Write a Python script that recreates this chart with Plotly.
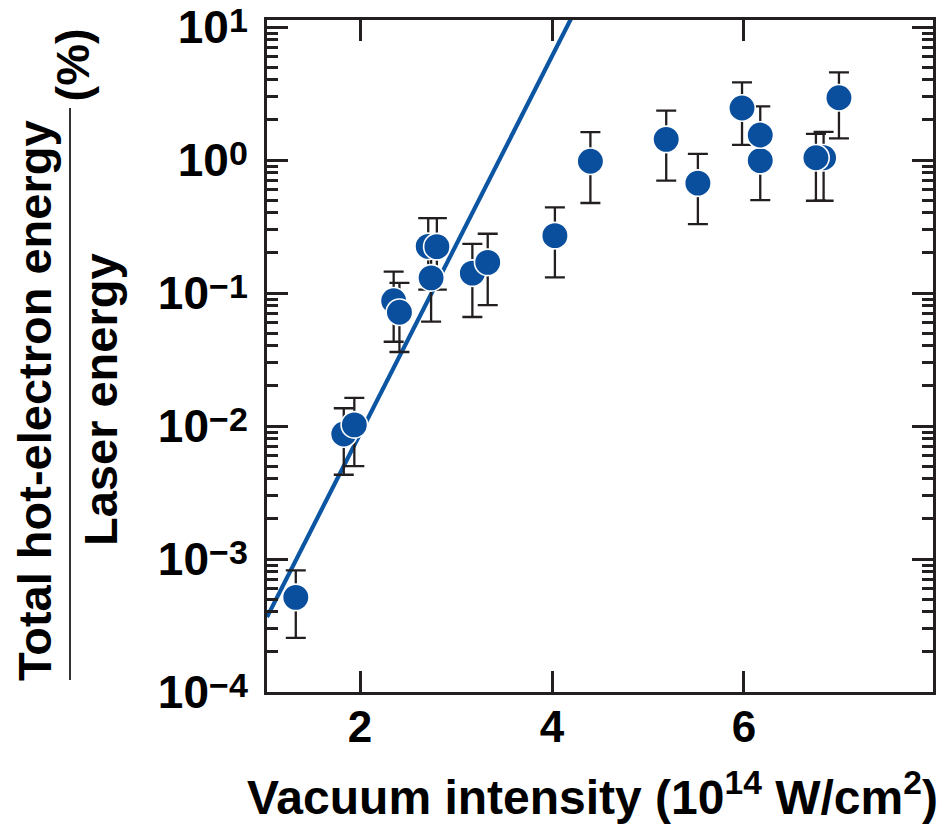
import numpy as np
import plotly.graph_objects as go

# Measured hot-electron fraction vs. vacuum intensity (drawing order = list order)
intensity = [1.33, 1.83, 1.94, 2.35, 2.41, 2.74, 2.71, 2.80, 3.17, 3.33,
             4.03, 4.40, 5.19, 5.52, 5.98, 6.17, 6.17, 6.83, 6.75, 6.99]
energy_pct = [5.15e-4, 0.0087, 0.0102, 0.0875, 0.0716, 0.130, 0.224, 0.223, 0.141, 0.170,
              0.270, 0.978, 1.43, 0.67, 2.46, 0.99, 1.54, 1.04, 1.04, 2.94]
upper_pct = [8.2e-4, 0.0136, 0.0163, 0.145, 0.119, 0.26, 0.366, 0.366, 0.234, 0.279,
             0.441, 1.62, 2.35, 1.11, 3.84, 1.55, 2.53, 1.63, 1.57, 4.56]
lower_pct = [2.55e-4, 0.0043, 0.0050, 0.043, 0.036, 0.061, 0.106, 0.106, 0.066, 0.081,
             0.131, 0.475, 0.70, 0.33, 1.30, 0.50, 0.94, 0.494, 0.494, 1.456]

# Exponential fit: log10(E) = fit_a + fit_b * I
fit_a = -4.899
fit_b = 1.42
fit_x_range = [1.03, 4.30]

# Axis ticks
x_ticks = [2, 4, 6]
y_ticks = [1e-4, 1e-3, 1e-2, 1e-1, 1e0, 1e1]
y_exponents = ["−4", "−3", "−2", "−1", "0", "1"]

INK = "#231f20"
BLUE = "#0a4f9d"
FONT = "Liberation Sans, Arial, Helvetica, sans-serif"

W, H = 950, 825
ML, MR, MT, MB = 267, 17, 20, 133
PW, PH = W - ML - MR, H - MT - MB


def px_x(p):
    return (p - ML) / PW


def px_y(p):
    return (H - MB - p) / PH


# exponent: large digits with a modest raise (outer span sets the raise amount)
y_ticktext = [
    f"10<span style='font-size:26px'><sup><span style='font-size:34px'>{e}</span></sup></span>"
    for e in y_exponents
]
minor_vals = [m * 10.0 ** d for d in range(-4, 1) for m in range(2, 10)]

fit_x = np.linspace(fit_x_range[0], fit_x_range[1], 50)
fit_y = 10 ** (fit_a + fit_b * fit_x)

x = np.array(intensity)
y = np.array(energy_pct)
err_plus = np.array(upper_pct) - y
err_minus = y - np.array(lower_pct)

fig = go.Figure()
fig.add_trace(go.Scatter(
    x=fit_x, y=fit_y, mode="lines",
    line=dict(color="#0b55a3", width=4.2),
    hoverinfo="skip", showlegend=False,
))
fig.add_trace(go.Scatter(
    x=x, y=y, mode="markers",
    marker=dict(size=26.5, color=BLUE, line=dict(color="white", width=1.6)),
    error_y=dict(type="data", array=err_plus, arrayminus=err_minus,
                 color=INK, thickness=2.3, width=10, symmetric=False),
    showlegend=False,
))

fig.update_xaxes(
    range=[1.03, 7.97], tickmode="array", tickvals=x_ticks,
    ticks="inside", ticklen=21, tickwidth=2.5, tickcolor=INK,
    showline=True, linecolor=INK, linewidth=3, mirror="ticks",
    showgrid=False, zeroline=False, automargin=False,
    tickfont=dict(family=FONT, size=44, color="black", weight="bold"),
    ticklabelstandoff=-6,
)
fig.update_yaxes(
    type="log", range=[-4, 1.0526], tickmode="array",
    tickvals=y_ticks, ticktext=y_ticktext,
    ticks="inside", ticklen=21, tickwidth=2.5, tickcolor=INK,
    minor=dict(tickmode="array", tickvals=minor_vals, ticks="inside",
               ticklen=11, tickwidth=2.5, tickcolor=INK, showgrid=False),
    showline=True, linecolor=INK, linewidth=3, mirror="ticks",
    showgrid=False, zeroline=False, automargin=False,
    tickfont=dict(family=FONT, size=46, color="black", weight="bold"),
    ticklabelstandoff=7, ticklabeloverflow="allow",
)

title_font = dict(family=FONT, size=47, color="black", weight="bold")
annotations = [
    dict(text="Vacuum intensity (10<sup>14</sup> W/cm<sup>2</sup>)",
         x=px_x(592), y=px_y(794), xanchor="center", yanchor="middle",
         font=dict(family=FONT, size=48, color="black", weight="bold")),
    dict(text="Total hot-electron energy", textangle=-90,
         x=px_x(34), y=px_y(401), xanchor="center", yanchor="middle",
         font=title_font),
    dict(text="Laser energy", textangle=-90,
         x=px_x(100), y=px_y(400), xanchor="center", yanchor="middle",
         font=title_font),
    dict(text="(%)", textangle=-90,
         x=px_x(72), y=px_y(104), xanchor="center", yanchor="bottom",
         font=title_font),
]
for a in annotations:
    a.update(xref="paper", yref="paper", showarrow=False)

fig.update_layout(
    width=W, height=H,
    margin=dict(l=ML, r=MR, t=MT, b=MB, autoexpand=False),
    paper_bgcolor="white", plot_bgcolor="white",
    annotations=annotations,
    shapes=[dict(type="line", xref="paper", yref="paper",
                 x0=px_x(70), x1=px_x(70), y0=px_y(108), y1=px_y(680),
                 line=dict(color="#333333", width=2))],
)

fig.write_html("out.html")
